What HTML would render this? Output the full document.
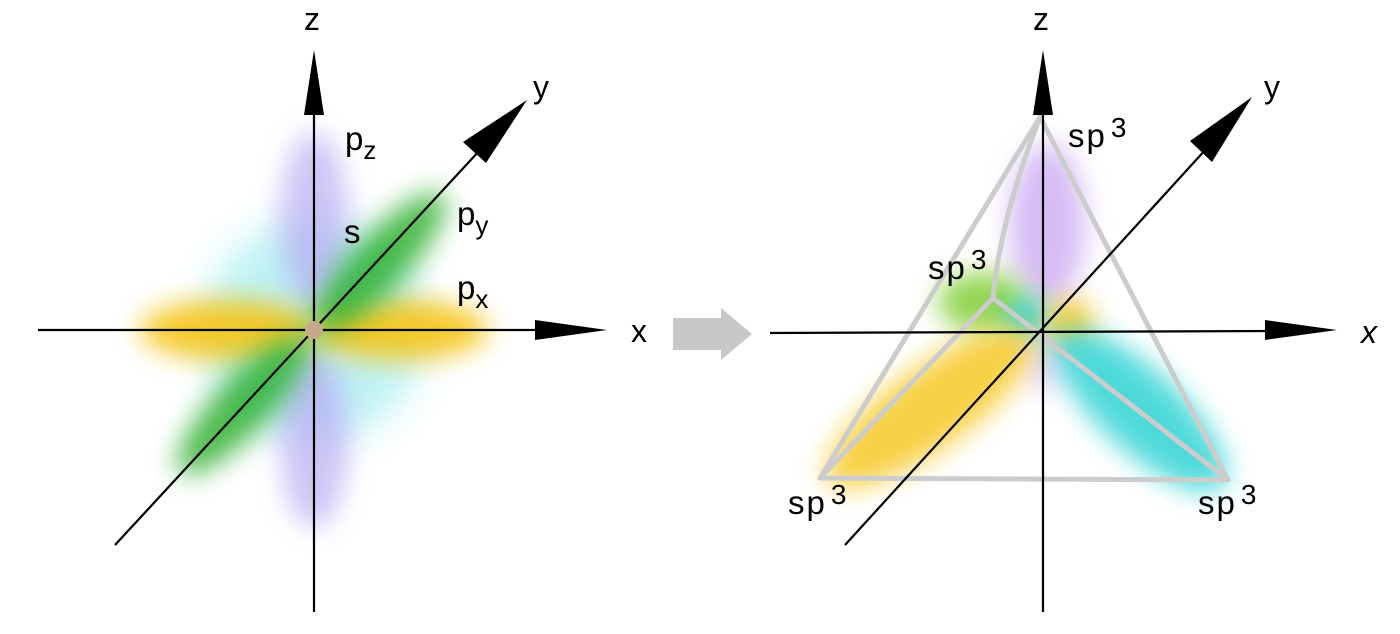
<!DOCTYPE html>
<html><head><meta charset="utf-8"><style>
html,body{margin:0;padding:0;background:#fff;}
svg{display:block;font-family:"Liberation Sans",sans-serif;}
</style></head><body>
<svg width="1400" height="634" viewBox="0 0 1400 634" xmlns="http://www.w3.org/2000/svg">
<defs>
<filter id="b" x="-50%" y="-50%" width="200%" height="200%"><feGaussianBlur stdDeviation="13"/></filter>
<filter id="b2" x="-50%" y="-50%" width="200%" height="200%"><feGaussianBlur stdDeviation="20"/></filter>
</defs>
<!-- LEFT -->
<g>
<circle cx="314" cy="330" r="110" fill="#b0f0f2" opacity="0.85" filter="url(#b2)"/>
<ellipse cx="314" cy="220" rx="34" ry="88" fill="#b6a6f0" opacity="0.65" filter="url(#b)"/>
<ellipse cx="314" cy="440" rx="34" ry="88" fill="#b6a6f0" opacity="0.65" filter="url(#b)"/>
<ellipse cx="228" cy="330" rx="88" ry="30" fill="#f5c518" opacity="0.9" filter="url(#b)"/>
<ellipse cx="400" cy="330" rx="88" ry="30" fill="#f5c518" opacity="0.9" filter="url(#b)"/>
<ellipse cx="380" cy="262" rx="92" ry="27" fill="#22aa22" opacity="0.8" transform="rotate(-47 380 262)" filter="url(#b)"/>
<ellipse cx="243" cy="405" rx="92" ry="27" fill="#22aa22" opacity="0.8" transform="rotate(-47 243 405)" filter="url(#b)"/>
<line x1="314" y1="100" x2="314" y2="612" stroke="#000" stroke-width="2.2"/>
<polygon points="314,50 304,115 324,115" fill="#000"/>
<line x1="38" y1="330" x2="545" y2="330" stroke="#000" stroke-width="2.2"/>
<polygon points="607,330 535,320 535,340" fill="#000"/>
<line x1="115" y1="545" x2="480" y2="150" stroke="#000" stroke-width="2.2"/>
<polygon points="527,100 463,142 486,163" fill="#000"/>
<circle cx="314" cy="330" r="9" fill="#c8a88a"/>
<text x="304" y="30" font-size="32">z</text>
<text x="533" y="98" font-size="32">y</text>
<text x="631" y="342" font-size="32">x</text>
<text x="345" y="150" font-size="33">p<tspan font-size="26" dy="9">z</tspan></text>
<text x="344" y="243" font-size="33">s</text>
<text x="457" y="225" font-size="33">p<tspan font-size="26" dy="9">y</tspan></text>
<text x="457" y="299" font-size="33">p<tspan font-size="26" dy="9">x</tspan></text>
</g>
<!-- middle arrow -->
<polygon points="673,318 721,318 721,308 752,334 721,360 721,350 673,350" fill="#c8c8c8"/>
<!-- RIGHT -->
<g>
<ellipse cx="1047" cy="225" rx="38" ry="82" fill="#c5a0f0" opacity="0.7" filter="url(#b)"/>
<ellipse cx="1045" cy="362" rx="20" ry="30" fill="#d0b0f0" opacity="0.5" filter="url(#b)"/>
<ellipse cx="983" cy="302" rx="45" ry="30" fill="#88d040" opacity="0.9" filter="url(#b)"/>
<ellipse cx="1027" cy="318" rx="22" ry="18" fill="#20cccc" filter="url(#b)"/>
<ellipse cx="1069" cy="322" rx="24" ry="22" fill="#f5c518" opacity="0.9" filter="url(#b)"/>
<ellipse cx="930" cy="408" rx="125" ry="40" fill="#f5c518" opacity="0.8" transform="rotate(-36 930 408)" filter="url(#b)"/>
<ellipse cx="1140" cy="410" rx="112" ry="40" fill="#22d0d0" opacity="0.8" transform="rotate(43 1140 410)" filter="url(#b)"/>
<g stroke="#cccccc" stroke-width="5" fill="none" stroke-linejoin="round">
<polygon points="1040,117 820,478 1228,480"/>
<path d="M1040,117 Q1000,220 993,298"/>
<line x1="993" y1="298" x2="820" y2="478"/>
<line x1="993" y1="298" x2="1228" y2="480"/>
</g>
<line x1="1043" y1="100" x2="1043" y2="612" stroke="#000" stroke-width="2.2"/>
<polygon points="1043,50 1033,115 1053,115" fill="#000"/>
<line x1="770" y1="333" x2="1275" y2="331" stroke="#000" stroke-width="2.2"/>
<polygon points="1337,330 1265,320 1265,340" fill="#000"/>
<line x1="845" y1="545" x2="1207" y2="148" stroke="#000" stroke-width="2.2"/>
<polygon points="1252,97 1190,141 1212,162" fill="#000"/>
<text x="1033" y="30" font-size="32">z</text>
<text x="1264" y="98" font-size="32">y</text>
<text x="1361" y="343" font-size="32" font-style="italic">x</text>
<g font-size="33" letter-spacing="2">
<text x="1068" y="147">sp<tspan font-size="28" dx="4" dy="-10">3</tspan></text>
<text x="928" y="279">sp<tspan font-size="28" dx="4" dy="-10">3</tspan></text>
<text x="788" y="514">sp<tspan font-size="28" dx="4" dy="-10">3</tspan></text>
<text x="1198" y="514">sp<tspan font-size="28" dx="4" dy="-10">3</tspan></text>
</g>
</g>
</svg>
</body></html>
